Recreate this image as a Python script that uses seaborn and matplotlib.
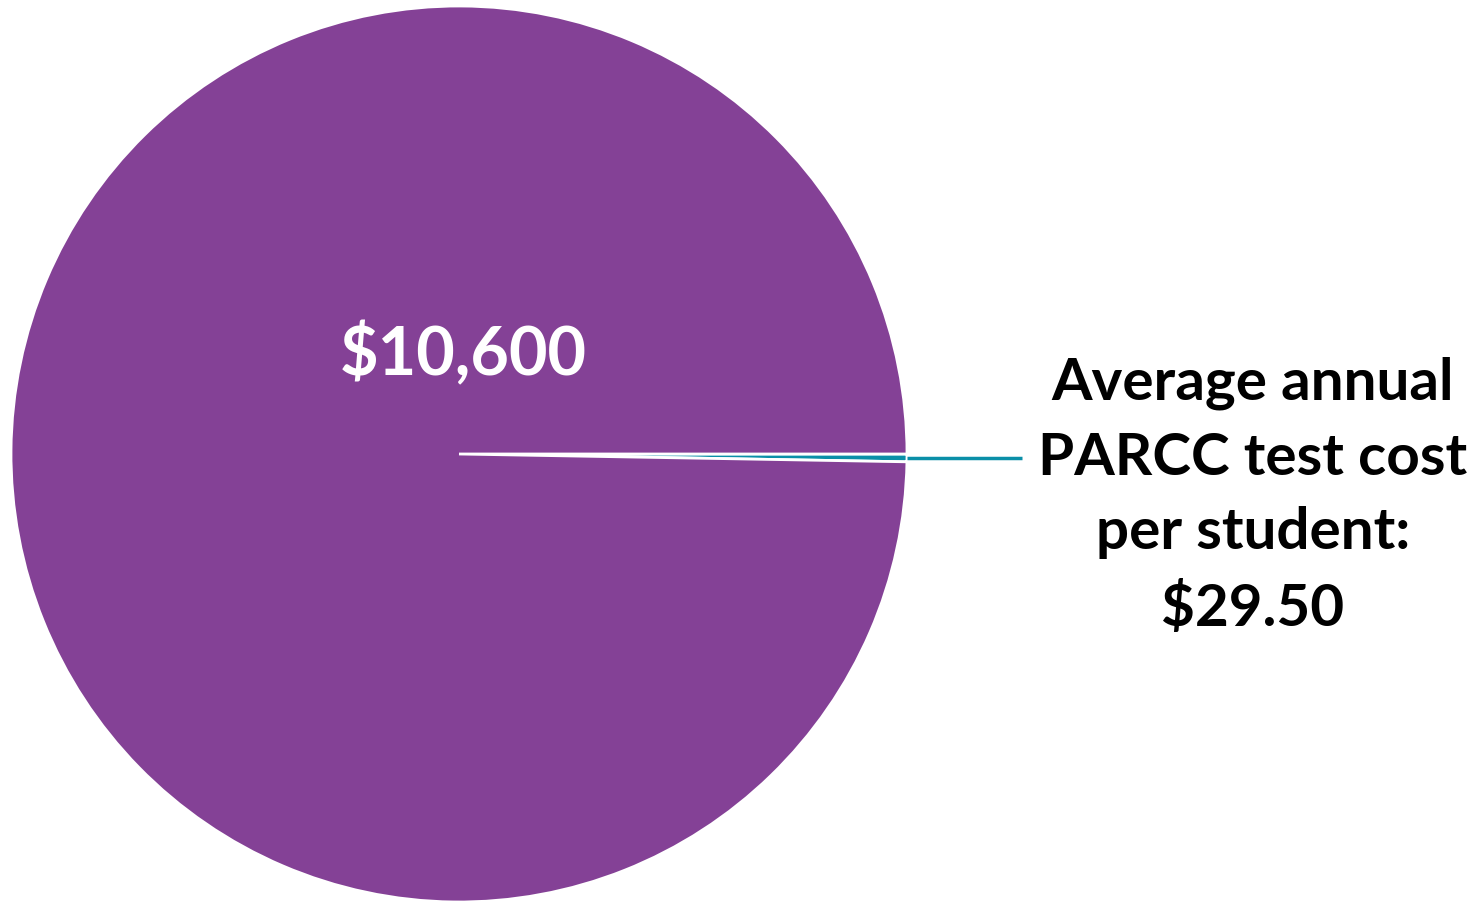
import numpy as np
import seaborn as sns
import matplotlib.pyplot as plt

# data
labels = ['PARCC test', 'Other per-student spending']
values = [29.5, 10600]
colors = ['#0A8FA8', '#844196']
value_labels = ['$29.50', '$10,600']

sns.set_theme(style='white')
plt.rcParams['font.family'] = ['Lato', 'DejaVu Sans']

fig = plt.figure(figsize=(14.72, 9.03), dpi=100)
ax = fig.add_axes([0, 0, 1, 1])

# pie laid out in pixel coords so it sits where the original does
cx, cy, r = 459, 448, 448
wedges, _ = ax.pie(values, colors=colors, startangle=0, counterclock=False,
                   center=(cx, cy), radius=r, frame=True,
                   wedgeprops=dict(edgecolor='white', linewidth=2))
ax.set_xlim(0, 1472)
ax.set_ylim(0, 903)
ax.set_aspect('equal')
ax.axis('off')

# big slice label
ax.text(463, 903 - 355, value_labels[1], color='white', fontsize=48,
        fontweight='bold', ha='center', va='center')

# leader line for the tiny slice
ang = np.deg2rad(-values[0] / sum(values) * 360 / 2)
ax.plot([cx + r * np.cos(ang), 1022], [cy + r * np.sin(ang)] * 2,
        color=colors[0], lw=2.5, solid_capstyle='butt')
ax.text(1253, 903 - 496, 'Average annual\nPARCC test cost\nper student:\n' + value_labels[0],
        color='black', fontsize=42, fontweight='bold', ha='center', va='center',
        linespacing=1.51)

fig.savefig('out.png', dpi=100)
